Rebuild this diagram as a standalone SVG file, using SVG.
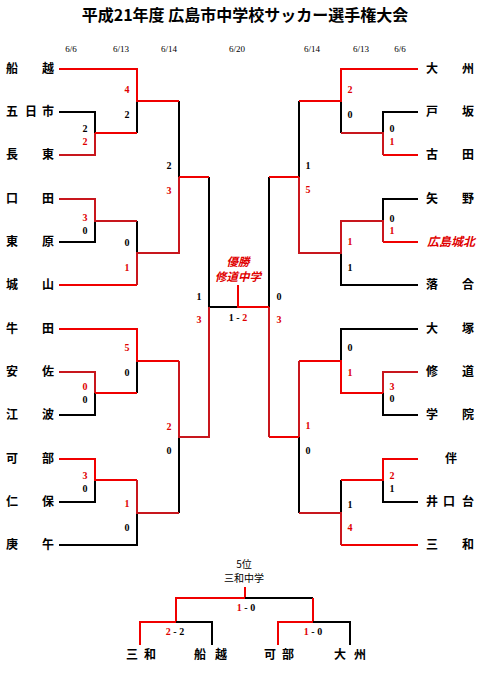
<svg xmlns="http://www.w3.org/2000/svg" width="489" height="673" viewBox="0 0 489 673">
<style>
.bg{fill:#fff}
.title{font-family:"Noto Sans CJK JP","Noto Sans",sans-serif;font-size:16px;font-weight:bold;fill:#000;text-anchor:middle}
.date{font-family:"Liberation Serif",serif;font-size:9px;fill:#000;text-anchor:middle}
.nm{font-family:"Noto Sans CJK JP","Noto Sans",sans-serif;font-size:12px;font-weight:bold;fill:#000;text-anchor:middle}
.nmr{font-family:"Noto Sans CJK JP","Noto Sans",sans-serif;font-size:12px;font-weight:bold;font-style:italic;fill:#e00000;text-anchor:middle}
.sc{font-family:"Liberation Serif",serif;font-size:10px;font-weight:bold;fill:#000;text-anchor:middle}
.scr{font-family:"Liberation Serif",serif;font-size:10px;font-weight:bold;fill:#e00000;text-anchor:middle}
.win{font-family:"Noto Sans CJK JP","Noto Sans",sans-serif;font-size:11.5px;font-weight:bold;font-style:italic;fill:#e00000;text-anchor:middle}
.sm{font-family:"Noto Sans CJK JP","Noto Sans",sans-serif;font-size:10px;fill:#000;text-anchor:middle}
.k{fill:none;stroke:#000;stroke-width:2}
.r{fill:none;stroke:#f00000;stroke-width:2}
.d{fill:none;stroke:#c8161d;stroke-width:2}
</style>
<rect class="bg" x="0" y="0" width="489" height="673"/>
<text class="title" x="245" y="21">平成21年度 広島市中学校サッカー選手権大会</text>
<g id="dates">
<text class="date" x="71" y="52">6/6</text>
<text class="date" x="121" y="52">6/13</text>
<text class="date" x="169" y="52">6/14</text>
<text class="date" x="237" y="52">6/20</text>
<text class="date" x="312" y="52">6/14</text>
<text class="date" x="361" y="52">6/13</text>
<text class="date" x="400" y="52">6/6</text>
</g>
<g id="connectors">
<path class="k" d="M59,112 H95 V133"/>
<path class="k" d="M59,242 H95 V221"/>
<path class="k" d="M59,415 H95 V393"/>
<path class="k" d="M59,502 H95 V480"/>
<path class="k" d="M59,545 H137 V513"/>
<path class="k" d="M137,101 V133"/>
<path class="k" d="M137,221 V253"/>
<path class="k" d="M137,361 V393"/>
<path class="k" d="M179,101 V177"/>
<path class="k" d="M179,437 V513"/>
<path class="k" d="M209,177 V307 H238"/>
<path class="r" d="M59,69 H137 V101 H179"/>
<path class="d" d="M59,155 H95 V133"/>
<path class="r" d="M95,133 H137"/>
<path class="d" d="M59,199 H95 V221 H137"/>
<path class="r" d="M59,285 H137"/>
<path class="d" d="M137,285 V253 H179 V177"/>
<path class="r" d="M179,177 H209"/>
<path class="r" d="M59,329 H137 V361 H179"/>
<path class="d" d="M179,361 V437 H209 V307"/>
<path class="d" d="M59,372 H95 V393"/>
<path class="r" d="M95,393 H137"/>
<path class="r" d="M59,459 H95 V480 H137"/>
<path class="d" d="M137,480 V513 H179"/>
<path class="k" d="M418,112 H383 V133"/>
<path class="k" d="M418,199 H383 V221"/>
<path class="k" d="M418,285 H341 V253"/>
<path class="k" d="M418,329 H341 V361"/>
<path class="k" d="M418,415 H383 V393"/>
<path class="k" d="M418,502 H383 V480"/>
<path class="k" d="M341,101 V133"/>
<path class="k" d="M341,480 V513"/>
<path class="k" d="M299,101 V177"/>
<path class="k" d="M299,437 V513"/>
<path class="k" d="M269,177 V307"/>
<path class="r" d="M418,69 H341 V101 H299"/>
<path class="r" d="M418,155 H383"/>
<path class="d" d="M383,155 V133 H341"/>
<path class="r" d="M418,242 H383"/>
<path class="d" d="M383,242 V221 H341 V253 H299 V177"/>
<path class="r" d="M299,177 H269"/>
<path class="d" d="M418,372 H383 V393"/>
<path class="r" d="M383,393 H341 V361 H299"/>
<path class="d" d="M299,361 V437"/>
<path class="r" d="M299,437 H269"/>
<path class="d" d="M269,437 V307"/>
<path class="r" d="M269,307 H238 V285"/>
<path class="r" d="M418,459 H383 V480 H341"/>
<path class="r" d="M418,545 H341"/>
<path class="d" d="M341,545 V513 H299"/>
<path class="r" d="M245,587 V598 H176 V622"/>
<path class="k" d="M245,598 H313"/>
<path class="r" d="M313,598 V622"/>
<path class="r" d="M140,645 V622 H176"/>
<path class="k" d="M176,622 H212 V645"/>
<path class="r" d="M278,645 V622 H313"/>
<path class="k" d="M313,622 H350 V645"/>
</g>
<g id="teams-left">
<text id="t-funakoshi" class="nm" x="12 48" y="73">船越</text>
<text id="t-itsukaichi" class="nm" x="12 31 48" y="116">五日市</text>
<text id="t-choto" class="nm" x="12 48" y="159">長東</text>
<text id="t-kuchita" class="nm" x="12 48" y="203">口田</text>
<text id="t-tobara" class="nm" x="12 48" y="246">東原</text>
<text id="t-shiroyama" class="nm" x="12 48" y="289">城山</text>
<text id="t-ushita" class="nm" x="12 48" y="333">牛田</text>
<text id="t-asa" class="nm" x="12 48" y="376">安佐</text>
<text id="t-eba" class="nm" x="12 48" y="419">江波</text>
<text id="t-kabe" class="nm" x="12 48" y="463">可部</text>
<text id="t-niho" class="nm" x="12 48" y="506">仁保</text>
<text id="t-koi" class="nm" x="12 48" y="549">庚午</text>
</g>
<g id="teams-right">
<text id="t-oshu" class="nm" x="432 468" y="73">大州</text>
<text id="t-hesaka" class="nm" x="432 468" y="116">戸坂</text>
<text id="t-furuta" class="nm" x="432 468" y="159">古田</text>
<text id="t-yano" class="nm" x="432 468" y="203">矢野</text>
<text id="t-hiroshimajohoku" class="nmr" x="451" y="246">広島城北</text>
<text id="t-ochiai" class="nm" x="432 468" y="289">落合</text>
<text id="t-otsuka" class="nm" x="432 468" y="333">大塚</text>
<text id="t-shudo" class="nm" x="432 468" y="376">修道</text>
<text id="t-gakuin" class="nm" x="432 468" y="419">学院</text>
<text id="t-tomo" class="nm" x="451" y="463">伴</text>
<text id="t-inokuchidai" class="nm" x="432 449 468" y="506">井口台</text>
<text id="t-miwa" class="nm" x="432 468" y="549">三和</text>
</g>
<g id="scores">
<text class="sc" x="85" y="131.5">2</text><text class="scr" x="85" y="144.5">2</text>
<text class="scr" x="85" y="220.5">3</text><text class="sc" x="85" y="233.5">0</text>
<text class="scr" x="85" y="389.5">0</text><text class="sc" x="85" y="402.5">0</text>
<text class="scr" x="85" y="478.5">3</text><text class="sc" x="85" y="491.5">0</text>
<text class="scr" x="127" y="92.5">4</text><text class="sc" x="127" y="117.5">2</text>
<text class="sc" x="127" y="245.5">0</text><text class="scr" x="127" y="270.5">1</text>
<text class="scr" x="127" y="350.5">5</text><text class="sc" x="127" y="375.5">0</text>
<text class="scr" x="127" y="506.5">1</text><text class="sc" x="127" y="530.5">0</text>
<text class="sc" x="169" y="168.5">2</text><text class="scr" x="169" y="193.5">3</text>
<text class="scr" x="169" y="429.5">2</text><text class="sc" x="169" y="453.5">0</text>
<text class="sc" x="199" y="299.5">1</text><text class="scr" x="199" y="322.5">3</text>
<text class="sc" x="279" y="299.5">0</text><text class="scr" x="279" y="322.5">3</text>
<text class="sc" x="308" y="168.5">1</text><text class="scr" x="308" y="192.5">5</text>
<text class="scr" x="308" y="428.5">1</text><text class="sc" x="308" y="453.5">0</text>
<text class="scr" x="350" y="92.5">2</text><text class="sc" x="350" y="117.5">0</text>
<text class="scr" x="350" y="244.5">1</text><text class="sc" x="350" y="270.5">1</text>
<text class="sc" x="350" y="350.5">0</text><text class="scr" x="350" y="375.5">1</text>
<text class="sc" x="350" y="507.5">1</text><text class="scr" x="350" y="530.5">4</text>
<text class="sc" x="392" y="131.5">0</text><text class="scr" x="392" y="144.5">1</text>
<text class="sc" x="392" y="221.5">0</text><text class="scr" x="392" y="233.5">1</text>
<text class="scr" x="392" y="389.5">3</text><text class="sc" x="392" y="401.5">0</text>
<text class="scr" x="392" y="478.5">2</text><text class="sc" x="392" y="491.5">1</text>
</g>
<g id="final">
<text class="win" x="238" y="266">優勝</text>
<text class="win" x="238" y="281">修道中学</text>
<text class="sc" x="238" y="320.5"><tspan>1 - </tspan><tspan fill="#e00000">2</tspan></text>
</g>
<g id="fifth">
<text class="sm" x="244" y="568">5位</text>
<text class="sm" x="244" y="582">三和中学</text>
<text class="sc" x="246" y="610.5"><tspan fill="#e00000">1</tspan><tspan> - 0</tspan></text>
<text class="sc" x="175" y="634.5"><tspan fill="#e00000">2</tspan><tspan> - 2</tspan></text>
<text class="sc" x="313" y="634.5"><tspan fill="#e00000">1</tspan><tspan> - 0</tspan></text>
<text class="nm" x="132 150" y="659">三和</text>
<text class="nm" x="200 221" y="659">船越</text>
<text class="nm" x="270 288" y="659">可部</text>
<text class="nm" x="340 360" y="659">大州</text>
</g>
</svg>
